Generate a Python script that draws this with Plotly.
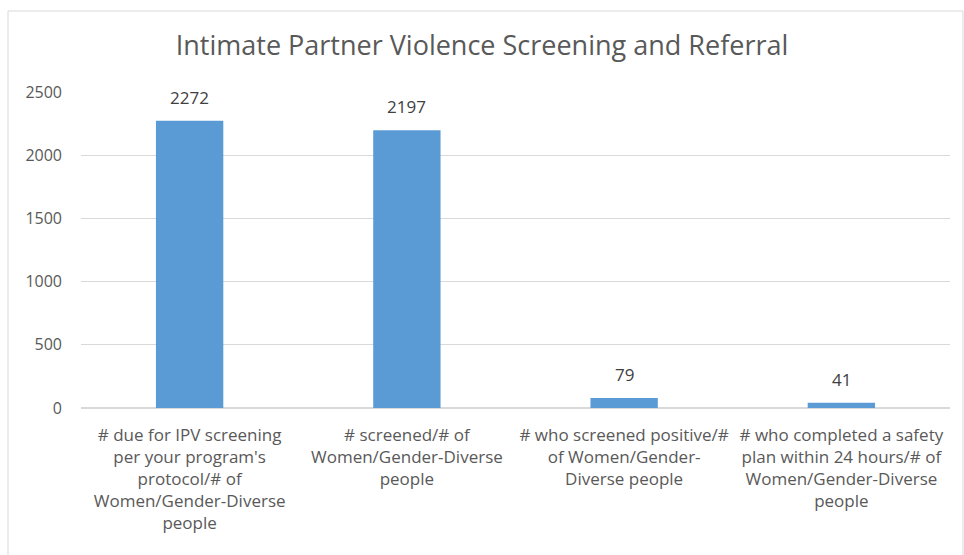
import plotly.graph_objects as go

CATEGORIES = [
    "# due for IPV screening<br>per your program's<br>protocol/# of<br>Women/Gender-Diverse<br>people",
    "# screened/# of<br>Women/Gender-Diverse<br>people",
    "# who screened positive/#<br>of Women/Gender-<br>Diverse people",
    "# who completed a safety<br>plan within 24 hours/# of<br>Women/Gender-Diverse<br>people",
]
VALUES = [2272, 2197, 79, 41]
Y_TICKS = [0, 500, 1000, 1500, 2000, 2500]

BAR_COLOR = "#5b9bd5"
GRID = "#d9d9d9"
INK = "#595959"
FONT_FAMILY = "Open Sans, Liberation Sans, sans-serif"

fig = go.Figure(
    go.Bar(
        x=CATEGORIES,
        y=VALUES,
        marker=dict(color=BAR_COLOR, line=dict(width=0)),
        hoverinfo="x+y",
    )
)

# value labels sit a little higher above the bars than plotly's "outside" text
for cat, val in zip(CATEGORIES, VALUES):
    fig.add_annotation(
        x=cat,
        y=val,
        text=str(val),
        showarrow=False,
        yanchor="bottom",
        yshift=10,
        font=dict(color="#404040", size=17),
    )

fig.update_layout(
    width=964,
    height=555,
    paper_bgcolor="white",
    plot_bgcolor="white",
    font=dict(family=FONT_FAMILY, color=INK, size=16),
    title=dict(
        text="Intimate Partner Violence Screening and Referral",
        font=dict(size=27, color=INK),
        x=0.5,
        xanchor="center",
        y=1 - 46 / 555,
        yanchor="middle",
    ),
    margin=dict(l=81, r=14, t=92, b=147),
    bargap=0.69,
    showlegend=False,
    # chart frame
    shapes=[
        dict(
            type="rect",
            xref="paper",
            yref="paper",
            x0=(8 - 81) / 869,
            x1=(963 - 81) / 869,
            y0=-0.6,
            y1=(408 - 11) / 316,
            line=dict(color="#d9d9d9", width=1),
            fillcolor="rgba(0,0,0,0)",
            layer="below",
        )
    ],
)

fig.update_yaxes(
    range=[0, 2500],
    tickvals=Y_TICKS,
    showgrid=True,
    gridcolor=GRID,
    gridwidth=1,
    zeroline=True,
    zerolinecolor=GRID,
    showline=False,
    ticks="",
    ticklabelstandoff=18,
    tickfont=dict(size=16, color=INK),
)
fig.update_xaxes(
    showgrid=False,
    showline=False,
    ticks="",
    tickangle=0,
    ticklabelstandoff=15,
    tickfont=dict(size=17, color=INK),
)

fig.write_html(
    "out.html",
    config={"displayModeBar": False},
    post_script="document.body.style.margin='0';",
)
